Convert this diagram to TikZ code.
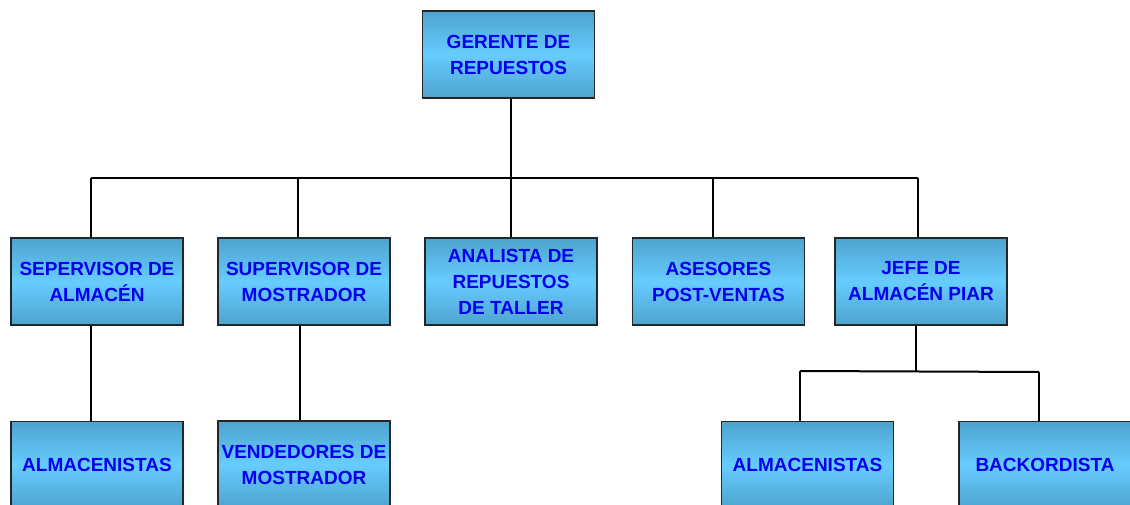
\documentclass[tikz,border=0pt]{standalone}
\usepackage{fontspec}
\setmainfont{Liberation Sans}
\definecolor{boxedge}{RGB}{78,163,206}
\definecolor{boxmid}{RGB}{102,204,255}
\definecolor{txtblue}{RGB}{0,0,240}
\begin{document}
\begin{tikzpicture}[x=1pt,y=-1pt,
  orgbox/.style={draw=black!85, line width=1.2pt, shading=axis, top color=boxedge, bottom color=boxedge, middle color=boxmid,
    minimum width=172pt, minimum height=87pt, inner sep=0pt, align=center,
    text=txtblue, font=\fontsize{19}{26}\selectfont\bfseries},
  conn/.style={draw=black, line width=2pt}]
\useasboundingbox (0,0) rectangle (1130,505);
\begin{scope}
\clip (0,0) rectangle (1130,505);
% nodes
\node[orgbox] (ger) at (508.5,54.5) {GERENTE DE\\REPUESTOS};
\node[orgbox] (sep) at (97,281.5) {SEPERVISOR DE\\ALMAC\'EN};
\node[orgbox] (sup) at (304,281.5) {SUPERVISOR DE\\MOSTRADOR};
\node[orgbox] (ana) at (511,281.5) {ANALISTA DE\\REPUESTOS\\DE TALLER};
\node[orgbox] (ase) at (718.5,281.5) {ASESORES\\POST-VENTAS};
\node[orgbox] (jef) at (921,281.5) {JEFE DE\\ALMAC\'EN PIAR};
\node[orgbox] (alm1) at (97,465) {ALMACENISTAS};
\node[orgbox] (ven) at (304,464.5) {VENDEDORES DE\\MOSTRADOR};
\node[orgbox] (alm2) at (807.5,465) {ALMACENISTAS};
\node[orgbox] (bac) at (1045,465) {BACKORDISTA};
% bus coordinates
\coordinate (b1) at (91,178);
\coordinate (b2) at (298,178);
\coordinate (b3) at (511,178);
\coordinate (b4) at (713,178);
\coordinate (b5) at (918,178);
\coordinate (s1) at (800,371);
\coordinate (sj) at (916,371);
\coordinate (s2) at (1039,372);
% connectors
\draw[conn] (b1) -- (b5);
\draw[conn] (ger.south -| b3) -- (ana.north -| b3);
\draw[conn] (b1) -- (sep.north -| b1);
\draw[conn] (b2) -- (sup.north -| b2);
\draw[conn] (b4) -- (ase.north -| b4);
\draw[conn] (b5) -- (jef.north -| b5);
\draw[conn] (sep.south -| b1) -- (alm1.north -| b1);
\draw[conn] (sup.south -| 300,0) -- (ven.north -| 300,0);
\draw[conn] (jef.south -| sj) -- (sj);
\draw[conn] (s1) -- (s2);
\draw[conn] (s1) -- (alm2.north -| s1);
\draw[conn] (s2) -- (bac.north -| s2);
\end{scope}
\end{tikzpicture}
\end{document}
